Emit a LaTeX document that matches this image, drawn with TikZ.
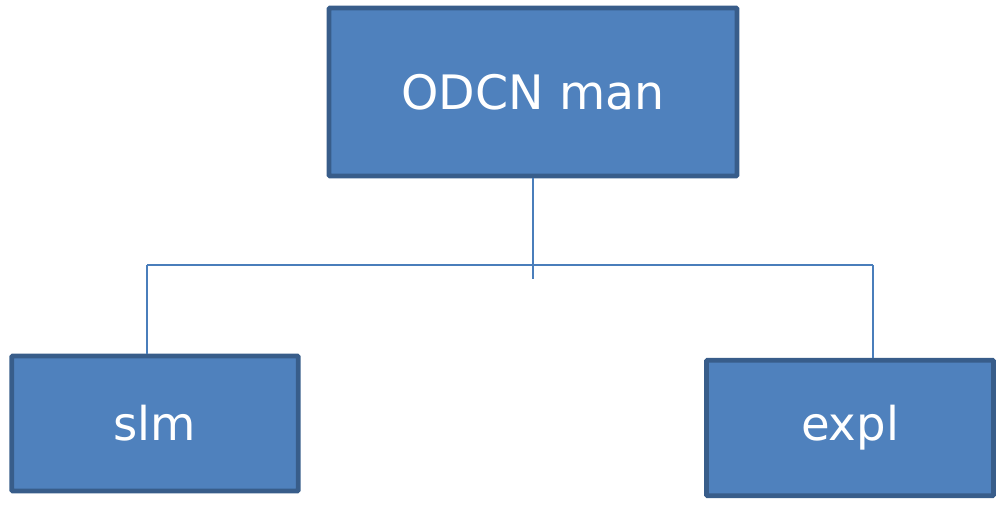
\documentclass[tikz,border=0pt]{standalone}
\usepackage{fontspec}
\setmainfont{DejaVu Sans}
\usetikzlibrary{positioning, calc}
\definecolor{boxfill}{HTML}{4F81BD}
\definecolor{boxline}{HTML}{385D8A}
\definecolor{linkline}{HTML}{4A7EBB}
\tikzset{
    orgbox/.style={draw=boxline, fill=boxfill, line width=2.7pt, rounded corners=0.6pt,
        text=white, inner sep=0pt, align=center},
    orglink/.style={draw=linkline, line width=0.85pt}
}

\begin{document}
\begin{tikzpicture}
    \useasboundingbox (0,0) rectangle (20,-10.1);
    \node[orgbox, minimum width=8.16cm, minimum height=3.36cm, font=\fontsize{27}{30}\selectfont]
        (man) at (10.66,-1.84) {ODCN man};
    \node[orgbox, minimum width=5.73cm, minimum height=2.70cm, font=\fontsize{26.5}{30}\selectfont]
        (slm) at (3.10,-8.47) {slm};
    \node[orgbox, minimum width=5.74cm, minimum height=2.71cm, font=\fontsize{26.5}{30}\selectfont]
        (expl) at (17.00,-8.56) {expl};
    % bus between the boxes
    \coordinate (stub) at (10.66,-5.58);
    \coordinate (busL) at (2.94,-5.30);
    \coordinate (busR) at (17.46,-5.30);
    \draw[orglink] (man.south) -- (stub);
    \draw[orglink] (busL) -- (busR);
    \draw[orglink] (busL) -- (slm.north -| busL);
    \draw[orglink] (busR) -- (expl.north -| busR);
\end{tikzpicture}
\end{document}
